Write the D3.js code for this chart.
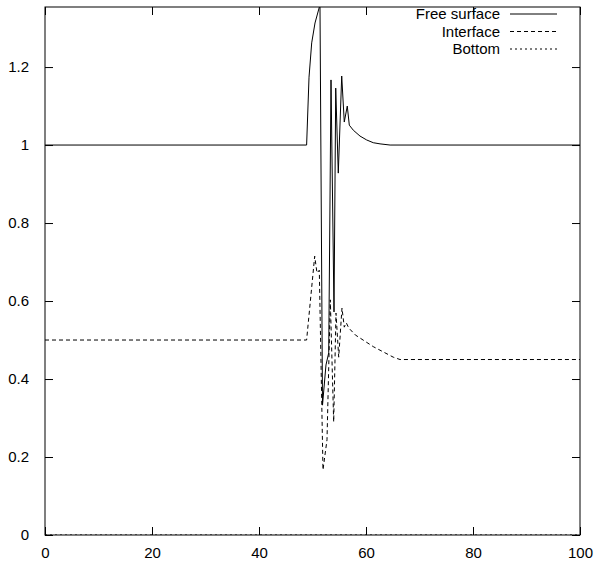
<!DOCTYPE html>
<html>
<head>
<meta charset="utf-8">
<script src="https://cdn.jsdelivr.net/npm/d3@7"></script>
<style>
  body { margin: 0; background: #fff; }
  text { font-family: "Liberation Sans", Arial, sans-serif; font-size: 15px; fill: #000; }
</style>
</head>
<body>
<svg width="599" height="565"></svg>
<script>
// data
const freeX = [0, 48.9, 49.35, 49.85, 50.47, 51.4, 51.87, 52.52, 53.03, 53.46, 54.02, 54.34, 54.82, 55.46, 55.94, 56.5, 56.88, 57.63, 58.88, 60.13, 61.36, 62.62, 64.5, 100];
const freeY = [1.0, 1.0, 1.174, 1.262, 1.313, 1.36, 0.333, 0.436, 0.467, 1.167, 0.572, 1.146, 0.928, 1.177, 1.059, 1.1, 1.051, 1.038, 1.023, 1.013, 1.006, 1.003, 1.0, 1.0];

const interX = [0, 48.9, 50.41, 50.84, 51.27, 51.96, 52.71, 53.33, 53.96, 54.39, 54.9, 55.51, 55.94, 56.32, 56.77, 58.0, 61.36, 65.1, 66.36, 100];
const interY = [0.5, 0.5, 0.715, 0.672, 0.679, 0.167, 0.244, 0.603, 0.29, 0.569, 0.456, 0.582, 0.533, 0.544, 0.531, 0.513, 0.483, 0.456, 0.45, 0.45];

const bottomX = [0, 100];
const bottomY = [0, 0];

const xTicks = [0, 20, 40, 60, 80, 100];
const yTicks = [0, 0.2, 0.4, 0.6, 0.8, 1.0, 1.2];

const seriesNames = ["Free surface", "Interface", "Bottom"];

const svg = d3.select("svg");
const mLeft = 45, mRight = 580, mTop = 7, mBottom = 535;

const x = d3.scaleLinear().domain([0, 100]).range([mLeft, mRight]);
const y = d3.scaleLinear().domain([0, 1.354]).range([mBottom, mTop]);

const dashes = [null, "4,3", "2,3"];
const series = [
  d3.zip(freeX, freeY),
  d3.zip(interX, interY),
  d3.zip(bottomX, bottomY)
];

svg.append("defs").append("clipPath").attr("id", "clip")
  .append("rect").attr("x", mLeft).attr("y", mTop).attr("width", mRight - mLeft).attr("height", mBottom - mTop);

const line = d3.line().x(d => x(d[0])).y(d => y(d[1]));

svg.append("g").attr("clip-path", "url(#clip)")
  .selectAll("path")
  .data(series)
  .enter().append("path")
  .attr("d", line)
  .attr("fill", "none")
  .attr("stroke", "#000")
  .attr("stroke-width", 1)
  .attr("stroke-dasharray", (d, i) => dashes[i]);

// axes, gnuplot style: ticks inside, mirrored
const tl = 8;
svg.append("g").attr("transform", `translate(0,${mBottom})`)
  .call(d3.axisBottom(x).tickValues(xTicks).tickSize(-tl).tickPadding(tl + 4).tickFormat(d3.format("d")))
  .call(g => g.select(".domain").remove());
svg.append("g").attr("transform", `translate(0,${mTop})`)
  .call(d3.axisTop(x).tickValues(xTicks).tickSize(-tl).tickFormat(""))
  .call(g => g.select(".domain").remove());
svg.append("g").attr("transform", `translate(${mLeft},0)`)
  .call(d3.axisLeft(y).tickValues(yTicks).tickSize(-tl).tickPadding(tl + 8).tickFormat(d => String(+d.toFixed(1))))
  .call(g => g.select(".domain").remove());
svg.append("g").attr("transform", `translate(${mRight},0)`)
  .call(d3.axisRight(y).tickValues(yTicks).tickSize(-tl).tickFormat(""))
  .call(g => g.select(".domain").remove());

svg.selectAll(".tick text").attr("font-size", 15).attr("font-family", "Liberation Sans, Arial, sans-serif").attr("fill", "#000");
svg.selectAll(".tick line").attr("stroke", "#000");

svg.append("rect")
  .attr("x", mLeft).attr("y", mTop)
  .attr("width", mRight - mLeft).attr("height", mBottom - mTop)
  .attr("fill", "none").attr("stroke", "#000").attr("stroke-width", 1);

// legend
const key = svg.append("g");
seriesNames.forEach((name, i) => {
  const ky = 14 + i * 17.5;
  key.append("text").attr("x", 500).attr("y", ky).attr("dy", "0.35em")
    .attr("text-anchor", "end").text(name);
  key.append("line").attr("x1", 510).attr("x2", 557).attr("y1", ky).attr("y2", ky)
    .attr("stroke", "#000").attr("stroke-width", 1)
    .attr("stroke-dasharray", dashes[i]);
});
</script>
</body>
</html>
